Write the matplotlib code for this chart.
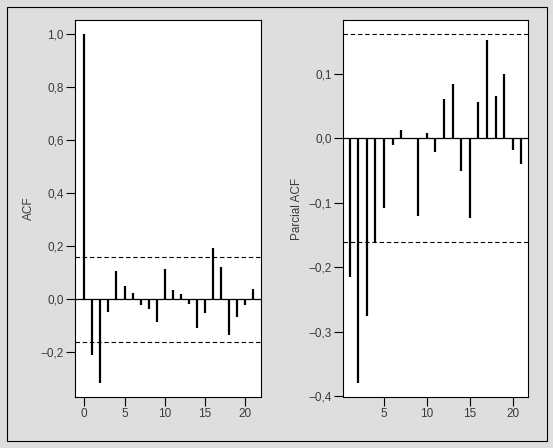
import numpy as np
import matplotlib
matplotlib.use("Agg")
import matplotlib.pyplot as plt
from matplotlib.ticker import FuncFormatter
from matplotlib.patches import Rectangle

# ACF values, lags 0..21
acf_lags = list(range(0, 22))
acf_vals = [1.0, -0.21, -0.315, -0.05, 0.106, 0.051, 0.025, -0.022, -0.0375, -0.0875,
            0.115, 0.036, 0.021, -0.019, -0.109, -0.0525, 0.194, 0.12, -0.135, -0.0675,
            -0.0225, 0.04]

# partial ACF values, lags 1..21
pacf_lags = list(range(1, 22))
pacf_vals = [-0.216, -0.379, -0.2765, -0.161, -0.1075, -0.0103, 0.0129, 0.0, -0.12, 0.0083,
             -0.0207, 0.061, 0.0842, -0.0501, -0.1245, 0.0563, 0.1525, 0.0656, 0.0997, -0.0181,
             -0.0393]

conf = 0.161

plt.rcParams['font.family'] = ['Liberation Sans', 'DejaVu Sans']

fig = plt.figure(figsize=(5.53, 4.48), dpi=100)
fig.patch.set_facecolor("#dedede")
fig.patches.append(Rectangle((7/553, 1 - 441/448), 540/553, 434/448, transform=fig.transFigure,
                             fill=False, edgecolor="black", linewidth=0.8))

comma = FuncFormatter(lambda v, p: ("%.1f" % v).replace(".", ",").replace("-", "\u2212"))
text_col = "#3a3a3a"


def style(ax):
    ax.set_facecolor("white")
    for s in ax.spines.values():
        s.set_linewidth(0.8)
        s.set_color("black")
    ax.tick_params(direction="out", length=6.5, width=0.8, labelsize=8.5, labelcolor=text_col, pad=1.5)
    ax.yaxis.set_major_formatter(comma)
    ax.axhline(0, color="black", linewidth=0.9)
    ax.axhline(conf, color="black", linewidth=0.8, linestyle=(0, (4, 2.5)))
    ax.axhline(-conf, color="black", linewidth=0.8, linestyle=(0, (4, 2.5)))


ax1 = fig.add_axes([75/553, 1 - 397/448, 186/553, 377/448])
ax1.vlines(acf_lags, 0, acf_vals, color="black", linewidth=1.6)
ax1.set_xlim(-1.15, 21.95)
ax1.set_ylim(-0.369, 1.054)
ax1.set_xticks([0, 5, 10, 15, 20])
ax1.set_yticks([-0.2, 0.0, 0.2, 0.4, 0.6, 0.8, 1.0])
style(ax1)
ax1.set_ylabel("ACF", fontsize=8.5, color=text_col, labelpad=4)

ax2 = fig.add_axes([343/553, 1 - 397/448, 185/553, 377/448])
ax2.vlines(pacf_lags, 0, pacf_vals, color="black", linewidth=1.6)
ax2.set_xlim(0.23, 21.78)
ax2.set_ylim(-0.4015, 0.1835)
ax2.set_xticks([5, 10, 15, 20])
ax2.set_yticks([-0.4, -0.3, -0.2, -0.1, 0.0, 0.1])
style(ax2)
ax2.set_ylabel("Parcial ACF", fontsize=8.5, color=text_col, labelpad=4)

plt.savefig("out.png", dpi=100, facecolor=fig.get_facecolor())
